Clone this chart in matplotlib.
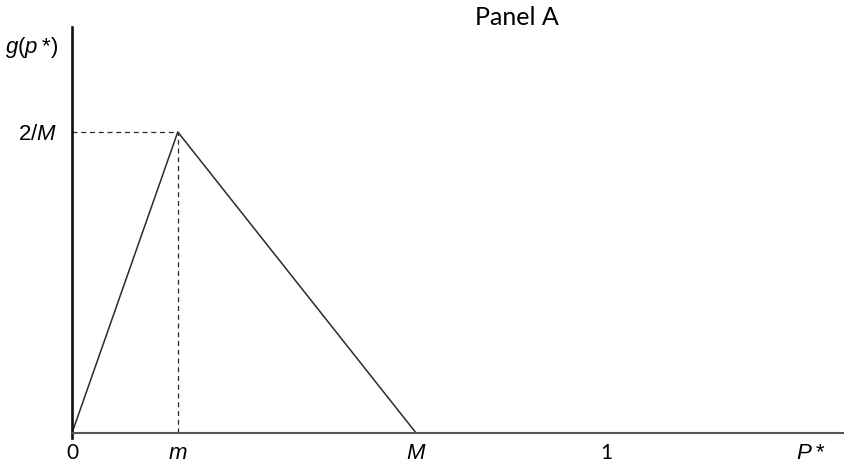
import matplotlib
matplotlib.use("Agg")
import matplotlib.pyplot as plt

plt.rcParams['font.family'] = ['Liberation Sans', 'DejaVu Sans']
plt.rcParams['mathtext.fontset'] = 'custom'
plt.rcParams['mathtext.rm'] = 'Liberation Sans'
plt.rcParams['mathtext.it'] = 'Liberation Sans:italic'

# triangular density on [0, M] with mode m
m = 0.198
M = 0.644
peak = 2 / M
dens_x = [0, m, M]
dens_y = [0, peak, 0]

tick_pos = [0, m, M, 1, 1.382]
tick_labels = ['0', '$m$', '$M$', '1', '$P$\u2009*']

fig = plt.figure(figsize=(8.45, 4.7), dpi=100)
ax = fig.add_axes([0.0852, 0.0787, 0.915, 0.864])

ax.plot(dens_x, dens_y, color='#2a2a2a', lw=1.1)
# guide lines to the peak
ax.plot([0, m], [peak, peak], color='#2a2a2a', lw=0.9, ls=(0, (4, 3)))
ax.plot([m, m], [0, peak], color='#2a2a2a', lw=0.9, ls=(0, (4, 3)))

ymax = peak * 406 / 301
ax.set_xlim(0, 1.447)
ax.set_ylim(0, ymax)

for s in ['top', 'right']:
    ax.spines[s].set_visible(False)
ax.spines['left'].set_linewidth(1.9)
ax.spines['left'].set_color('#111111')
ax.spines['left'].set_bounds(-ymax * 0.012, ymax)
ax.spines['bottom'].set_linewidth(1.5)
ax.spines['bottom'].set_color('#555555')

ax.set_xticks(tick_pos)
ax.set_xticklabels(tick_labels)
ax.set_yticks([peak])
ax.set_yticklabels(['2/$M$'])
ax.tick_params(length=0, labelsize=16, pad=7)
ax.tick_params(axis='y', pad=11)
for lbl in ax.get_xticklabels():
    if lbl.get_text() in ('0', '1'):
        lbl.set_family(['Lato', 'DejaVu Sans'])
        lbl.set_fontsize(15)

fig.text(0.006, 0.9, '$g$($p$\u2009*)', fontsize=16, ha='left', va='center')
fig.text(0.612, 0.962, 'Panel A', fontsize=18, ha='center', va='center',
         family=['Lato', 'DejaVu Sans'])

fig.savefig('out.png', dpi=100)
